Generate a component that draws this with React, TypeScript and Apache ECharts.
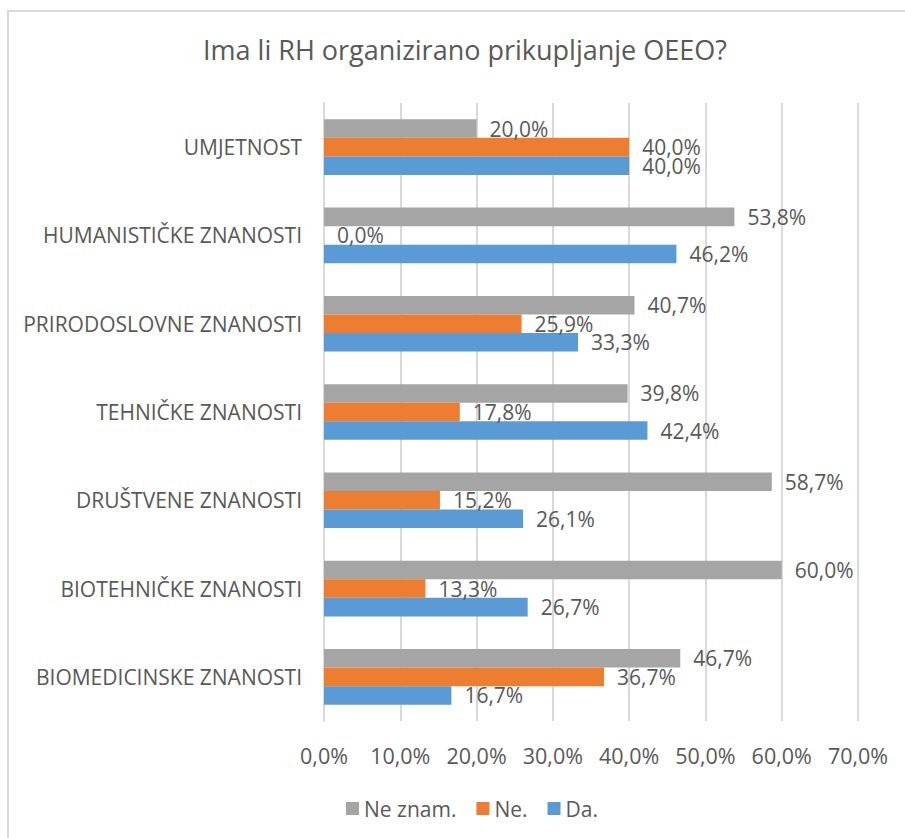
import React, { useEffect, useRef } from "react";
import * as echarts from "echarts";

const categories = [
  "BIOMEDICINSKE ZNANOSTI",
  "BIOTEHNIČKE ZNANOSTI",
  "DRUŠTVENE ZNANOSTI",
  "TEHNIČKE ZNANOSTI",
  "PRIRODOSLOVNE ZNANOSTI",
  "HUMANISTIČKE ZNANOSTI",
  "UMJETNOST",
];
const daValues = [16.7, 26.7, 26.1, 42.4, 33.3, 46.2, 40.0];
const neValues = [36.7, 13.3, 15.2, 17.8, 25.9, 0.0, 40.0];
const neZnamValues = [46.7, 60.0, 58.7, 39.8, 40.7, 53.8, 20.0];
const legendOrder = ["Ne znam.", "Ne.", "Da."];

const FONT = "'Open Sans', sans-serif";
const TXT = "#595959";
const fmt = (v: number) => v.toFixed(1).replace(".", ",") + "%";

export default function App() {
  const ref = useRef<HTMLDivElement>(null);
  useEffect(() => {
    if (!ref.current) return;
    const chart = echarts.init(ref.current, undefined, { renderer: "svg" });
    const labelCfg = {
      show: true,
      position: "right" as const,
      distance: 13,
      fontSize: 21,
      color: TXT,
      fontFamily: FONT,
      formatter: (p: any) => fmt(p.value),
    };
    chart.setOption({
      animation: false,
      textStyle: { fontFamily: FONT },
      title: {
        text: "Ima li RH organizirano prikupljanje OEEO?",
        left: 460,
        textAlign: "center",
        top: 31,
        textStyle: { fontSize: 27, fontWeight: "normal", color: TXT, fontFamily: FONT },
      },
      graphic: [
        { type: "line", shape: { x1: 7, y1: 11, x2: 905, y2: 11 }, style: { stroke: "#d9d9d9", lineWidth: 2 } },
        { type: "line", shape: { x1: 8, y1: 10, x2: 8, y2: 838 }, style: { stroke: "#d9d9d9", lineWidth: 2 } },
      ],
      legend: {
        data: legendOrder,
        top: 793,
        left: 341,
        icon: "rect",
        itemWidth: 13,
        itemHeight: 13,
        itemGap: 20,
        textStyle: { fontSize: 21, color: TXT, fontFamily: FONT },
      },
      grid: { left: 324, right: 47, top: 103, bottom: 117, containLabel: false },
      xAxis: {
        type: "value",
        min: 0,
        max: 70,
        interval: 10,
        axisLine: { show: false },
        axisTick: { show: false },
        splitLine: { lineStyle: { color: "#d9d9d9", width: 2 } },
        axisLabel: { fontSize: 21.5, color: TXT, margin: 23, formatter: (v: number) => fmt(v), fontFamily: FONT },
      },
      yAxis: {
        type: "category",
        data: categories,
        axisLine: { show: true, lineStyle: { color: "#d9d9d9", width: 2 } },
        axisTick: { show: false },
        axisLabel: { fontSize: 21, color: TXT, margin: 22, fontFamily: FONT },
      },
      series: [
        { name: "Ne znam.", type: "bar", data: neZnamValues, itemStyle: { color: "#A5A5A5" }, barGap: "0%", barCategoryGap: "37%", label: labelCfg },
        { name: "Ne.", type: "bar", data: neValues, itemStyle: { color: "#ED7D31" }, barGap: "0%", barCategoryGap: "37%", label: labelCfg },
        { name: "Da.", type: "bar", data: daValues, itemStyle: { color: "#5B9BD5" }, barGap: "0%", barCategoryGap: "37%", label: labelCfg },
      ],
    });
    return () => chart.dispose();
  }, []);
  return (
    <div
      ref={ref}
      style={{ position: "absolute", left: 0, top: 0, width: 905, height: 838, background: "#fff" }}
    />
  );
}
